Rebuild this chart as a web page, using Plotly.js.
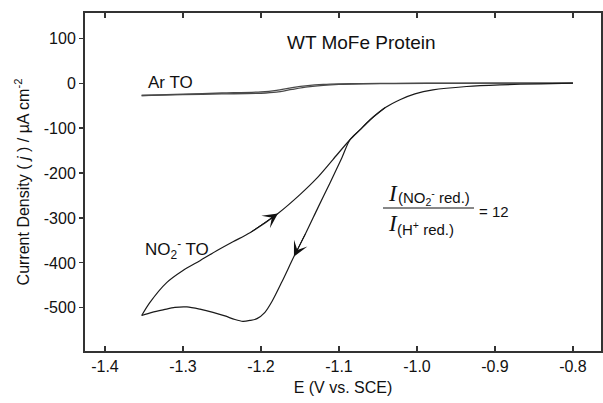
<!DOCTYPE html>
<html>
<head>
<meta charset="utf-8">
<script src="https://cdn.plot.ly/plotly-3.0.1.min.js"></script>
<style>html,body{margin:0;padding:0;background:#fff;}#chart{width:603px;height:403px;}</style>
</head>
<body>
<div id="chart"></div>
<script>
// Ar TO (two nearly overlapping sweeps)
var arE      = [-1.353, -1.30, -1.25, -1.20, -1.18, -1.16, -1.14, -1.12, -1.10, -1.07, -1.03, -0.95, -0.87, -0.80];
var arJ_fwd  = [-27.5, -24.5, -22, -19.5, -16, -10, -5.5, -3, -1.8, -1, -0.5, 0, 0, 0];
var arJ_rev  = [-27.5, -25.5, -24, -22.5, -20, -14, -8.5, -5, -3, -1.8, -1, -0.4, 0, 0];

// NO2- TO : common upper part (from -0.8 V going negative)
var topE = [-0.800, -0.841, -0.8936, -0.9363, -0.9795, -1.0026, -1.0218, -1.0410, -1.0603, -1.0731, -1.0859];
var topJ = [0, -1.5, -3.8, -7.5, -15, -24, -37, -55, -82, -104, -126];
// forward (cathodic) lower branch
var fwdE = [-1.0962, -1.1115, -1.1269, -1.1423, -1.1577, -1.1731, -1.1859, -1.1949, -1.2051, -1.2141, -1.2231, -1.2333, -1.2462, -1.2615, -1.2782, -1.2949, -1.3103, -1.3244, -1.3397, -1.3529];
var fwdJ = [-166, -222, -277, -333, -386, -442, -486, -510, -524, -528, -530, -526, -518, -510, -503, -498, -499, -504, -510, -517];
// reverse (anodic) upper branch, rejoining the common part
var revE = [-1.3529, -1.3423, -1.3209, -1.3000, -1.2782, -1.2568, -1.2359, -1.2141, -1.1782, -1.1500, -1.1286, -1.1077, -1.0859, -1.0731, -1.0603, -1.0410];
var revJ = [-517, -488, -444, -417, -395, -373, -353, -333, -290, -248, -212, -170, -126, -104, -82, -55];

var tickVals = [-1.4, -1.3, -1.2, -1.1, -1.0, -0.9, -0.8];
var tickText = ['-1.4', '-1.3', '-1.2', '-1.1', '-1.0', '-0.9', '-0.8'];
var yTickVals = [-500, -400, -300, -200, -100, 0, 100];
var yTickText = ['-500', '-400', '-300', '-200', '-100', '0', '100'];

var FONT = 'Liberation Sans, Arial, Helvetica, sans-serif';
var SERIF = 'Liberation Serif, Times New Roman, serif';

var fwdAllE = topE.concat(fwdE);
var fwdAllJ = topJ.concat(fwdJ);

var traces = [
  {x: arE, y: arJ_fwd, mode: 'lines', line: {color: '#4a4a4a', width: 1.3, shape: 'spline', smoothing: 0.8}, hoverinfo: 'skip'},
  {x: arE, y: arJ_rev, mode: 'lines', line: {color: '#4a4a4a', width: 1.3, shape: 'spline', smoothing: 0.8}, hoverinfo: 'skip'},
  {x: fwdAllE, y: fwdAllJ, mode: 'lines', line: {color: '#1a1a1a', width: 1.2, shape: 'spline', smoothing: 0.8}, hoverinfo: 'skip'},
  {x: revE, y: revJ, mode: 'lines', line: {color: '#1a1a1a', width: 1.2, shape: 'spline', smoothing: 0.8}, hoverinfo: 'skip'}
];

// arrows along the sweeps, built from the data points
var fi = 4, ri = 8;
function px(x) { return (x - 85) / 516; }
function py(y) { return (351 - y) / 338; }

var annotations = [
  {x: fwdE[fi], y: fwdJ[fi], ax: fwdE[fi - 1], ay: fwdJ[fi - 1], xref: 'x', yref: 'y', axref: 'x', ayref: 'y',
   showarrow: true, arrowhead: 3, arrowsize: 2.5, arrowwidth: 1, arrowcolor: '#111', standoff: 0, text: ''},
  {x: revE[ri], y: revJ[ri], ax: revE[ri - 1], ay: revJ[ri - 1], xref: 'x', yref: 'y', axref: 'x', ayref: 'y',
   showarrow: true, arrowhead: 3, arrowsize: 2.5, arrowwidth: 1, arrowcolor: '#111', standoff: 0, text: ''},
  {xref: 'paper', yref: 'paper', x: px(361.5), y: py(42), text: 'WT MoFe Protein', showarrow: false,
   font: {family: FONT, size: 19, color: '#111'}, xanchor: 'center', yanchor: 'middle'},
  {xref: 'paper', yref: 'paper', x: px(146), y: py(83), text: 'Ar TO', showarrow: false,
   font: {family: FONT, size: 17, color: '#111'}, xanchor: 'left', yanchor: 'middle'},
  {xref: 'paper', yref: 'paper', x: px(143), y: py(249), text: 'NO<sub>2</sub><sup>-</sup> TO', showarrow: false,
   font: {family: FONT, size: 17, color: '#111'}, xanchor: 'left', yanchor: 'middle'},
  {xref: 'paper', yref: 'paper', x: px(386), y: py(193), text: '<i>I</i>', showarrow: false,
   font: {family: SERIF, size: 23, color: '#111'}, xanchor: 'left', yanchor: 'middle'},
  {xref: 'paper', yref: 'paper', x: px(396), y: py(197), text: '(NO<sub>2</sub><sup>-</sup> red.)', showarrow: false,
   font: {family: FONT, size: 15, color: '#111'}, xanchor: 'left', yanchor: 'middle'},
  {xref: 'paper', yref: 'paper', x: px(386), y: py(223), text: '<i>I</i>', showarrow: false,
   font: {family: SERIF, size: 23, color: '#111'}, xanchor: 'left', yanchor: 'middle'},
  {xref: 'paper', yref: 'paper', x: px(395), y: py(228), text: '(H<sup>+</sup> red.)', showarrow: false,
   font: {family: FONT, size: 15, color: '#111'}, xanchor: 'left', yanchor: 'middle'},
  {xref: 'paper', yref: 'paper', x: px(477), y: py(211), text: '= 12', showarrow: false,
   font: {family: FONT, size: 15, color: '#111'}, xanchor: 'left', yanchor: 'middle'}
];

var shapes = [
  {type: 'line', xref: 'paper', yref: 'paper', x0: px(383), x1: px(474), y0: py(208), y1: py(208),
   line: {color: '#111', width: 1}}
];

var layout = {
  width: 603, height: 403,
  margin: {l: 85, r: 2, t: 13, b: 52},
  paper_bgcolor: '#fff', plot_bgcolor: '#fff',
  showlegend: false,
  font: {family: FONT, color: '#111'},
  xaxis: {
    range: [-1.4256, -0.764],
    tickmode: 'array', tickvals: tickVals, ticktext: tickText,
    ticks: 'inside', ticklen: 5, tickwidth: 1.2, tickcolor: '#333',
    mirror: 'ticks', showline: true, linecolor: '#333', linewidth: 2,
    showgrid: false, zeroline: false,
    tickfont: {family: FONT, size: 16, color: '#111'},
    title: {text: 'E (V vs. SCE)', font: {family: FONT, size: 16, color: '#111'}, standoff: 8}
  },
  yaxis: {
    range: [-596, 156],
    tickmode: 'array', tickvals: yTickVals, ticktext: yTickText,
    ticks: 'outside', ticklen: 4, tickwidth: 1.2, tickcolor: '#333',
    mirror: true, showline: true, linecolor: '#333', linewidth: 2,
    showgrid: false, zeroline: false,
    tickfont: {family: FONT, size: 16, color: '#111'},
    title: {text: 'Current Density ( <i>j</i> ) / µA cm<sup>-2</sup>', font: {family: FONT, size: 16, color: '#111'}, standoff: 10}
  },
  annotations: annotations,
  shapes: shapes
};

Plotly.newPlot('chart', traces, layout, {displayModeBar: false, staticPlot: true});
</script>
</body>
</html>
